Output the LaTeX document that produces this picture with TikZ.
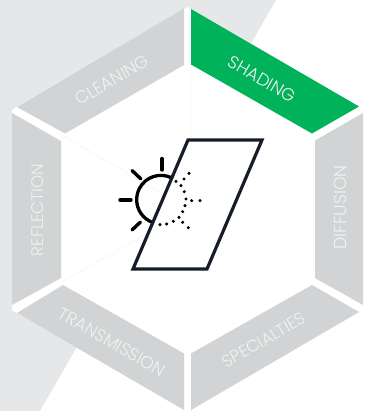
\documentclass[tikz,border=0pt]{standalone}
\usepackage{fontspec}
\setmainfont{Poppins}[UprightFont=* Light]
\definecolor{segGray}{HTML}{D1D3D4}
\definecolor{bgGray}{HTML}{E6E7E8}
\definecolor{segGreen}{HTML}{00B259}
\definecolor{inkDark}{HTML}{171C2B}
\definecolor{faint}{HTML}{F6F6F7}
\definecolor{labelCol}{HTML}{F1F2F2}
\tikzset{
  seg/.style={fill=segGray,draw=none},
  seglabel/.style={text=labelCol,font=\fontsize{17.4}{19}\selectfont,inner sep=0pt},
  seglabelsmall/.style={text=labelCol,font=\fontsize{16.8}{19}\selectfont,inner sep=0pt},
  ink/.style={draw=inkDark,line width=3.2pt},
  ray/.style={draw=black,line width=3.4pt,line cap=round},
  spark/.style={fill=black,draw=none}
}
\begin{document}
\begin{tikzpicture}[x=1pt,y=-1pt]
\useasboundingbox (0,0) rectangle (365,411);
\fill[white] (0,0) rectangle (365,411);
\fill[bgGray] (0,0) -- (276,0) -- (40,411) -- (0,411) -- cycle;
\fill[white] (187.5,7) -- (14,108.5) -- (12,111) -- (12,309) -- (14,311.5) -- (187.5,411) -- (363,311) -- (363,108) -- cycle;
% faint lines
\draw[faint,line width=0.6pt] (191,64) -- (191,150) (62,135) -- (165,195) (62,282) -- (150,232);
% segments
\fill[segGreen] (191,9) -- (359,106.5) -- (312,133.5) -- (191,64.5) -- cycle;
\fill[seg] (184,8.5) -- (184,65) -- (65,133.5) -- (17,107) -- cycle;
\fill[seg] (12,113) -- (61,141) -- (61,278) -- (12,305) -- cycle;
\fill[seg] (17,313) -- (63,285) -- (184,353.5) -- (184,410) -- cycle;
\fill[seg] (191,353.5) -- (312,285) -- (359,312) -- (191,410) -- cycle;
\fill[seg] (315,140.5) -- (363,113) -- (363,305) -- (315,278) -- cycle;
% labels
\node[seglabel,rotate=30] (cleaning) at (112,80) {CLEANING};
\node[seglabel,rotate=-30] (shading) at (262,79) {SHADING};
\node[seglabelsmall,rotate=90] (reflection) at (38,210) {REFLECTION};
\node[seglabel,rotate=90] (diffusion) at (340,207.5) {DIFFUSION};
\node[seglabel,rotate=-30] (transmission) at (112,342) {TRANSMISSION};
\node[seglabelsmall,rotate=30] (specialties) at (264,340) {SPECIALTIES};
% sun
\draw[black,line width=3.3pt] (172,178) arc[start angle=-63,end angle=-250,radius=24.3];
\draw[ray] (162,158.5) -- (162,170);
\draw[ray] (132,170.5) -- (141,179);
\draw[ray] (120,200) -- (131,200);
\draw[ray] (132,230) -- (140.5,222);
\foreach \px/\py in {228/184,243/197,253/215,258/237,255/257,248/275,237/292,220/304,200/312,180/314,252/177,267/160,275/242,300/242,248/307,265/323}
  \fill[spark] ({100+\px/3},{120+\py/3}) circle[radius=1.7];
% glass
\draw[ink,line join=miter] (188,140) -- (262,140) -- (207,269) -- (133,269) -- cycle;
\end{tikzpicture}
\end{document}
